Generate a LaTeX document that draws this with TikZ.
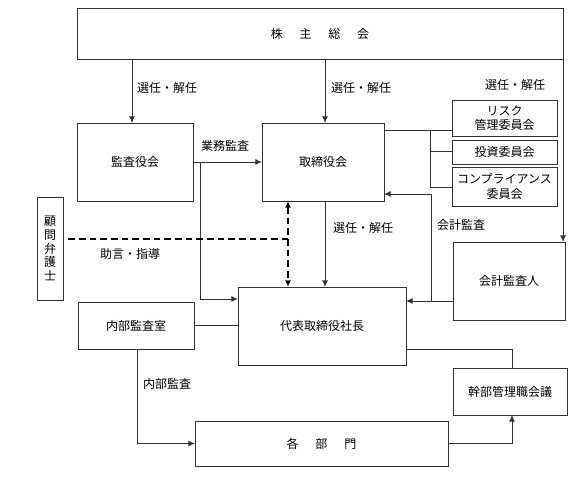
\documentclass[tikz,border=0pt]{standalone}
\usepackage{fontspec}
\setmainfont{Noto Sans CJK JP}
\usetikzlibrary{arrows.meta}
\tikzset{
  box/.style={draw=black!80, line width=0.7pt, inner sep=0pt, outer sep=0pt, align=center, font=\fontsize{9}{11}\selectfont},
  conn/.style={draw=black!80, line width=0.7pt},
  arr/.style={conn, -{Latex[length=5pt,width=4.5pt]}},
  dsh/.style={draw=black, line width=1.2pt, dash pattern=on 5pt off 3pt},
  lbl/.style={font=\fontsize{9}{11}\selectfont, inner sep=1pt}
}
\newcommand\bx[6]{\node[box, minimum width={(#4-#2)*0.75pt}, minimum height={(#5-#3)*0.75pt}] (#1) at ({(#2+#4)/2},{(#3+#5)/2}) {#6};}
\begin{document}
\begin{tikzpicture}[x=0.75pt,y=-0.75pt]
\useasboundingbox (0,0) rectangle (574,481);
% boxes
\bx{kabu}{77}{8}{563}{59}{株\hspace{1.4em}主\hspace{1.4em}総\hspace{1.4em}会}
\bx{kansa}{77}{123}{193}{201}{監査役会}
\bx{tori}{262}{123}{384}{201}{取締役会}
\bx{risk}{452}{100}{557}{136}{リスク\\管理委員会}
\bx{toushi}{452}{140}{557}{164}{投資委員会}
\bx{comp}{452}{167}{557}{206}{コンプライアンス\\委員会}
\bx{kaikei}{453}{242}{565}{320}{会計監査人}
\node[box, minimum width={26*0.75pt}, minimum height={103*0.75pt}, font=\fontsize{9}{10.2}\selectfont] (komon) at (50,248.5) {顧\\問\\弁\\護\\士};
\bx{daihyo}{238}{287}{406}{365}{代表取締役社長}
\bx{naibu}{78}{302}{194}{349}{内部監査室}
\bx{kakubu}{195}{421}{448}{466}{各\hspace{1.4em}部\hspace{1.4em}門}
\bx{kanbu}{453}{368}{567}{415}{幹部管理職会議}
% shareholders' meeting arrows
\draw[arr] (132,0 |- kabu.south) -- (132,0 |- kansa.north);
\draw[arr] (325,0 |- kabu.south) -- (325,0 |- tori.north);
\draw[arr] (kabu.south east) -- (kabu.south east |- kaikei.north);
\node[lbl] (l1) at (167,88) {選任・解任};
\node[lbl] (l2) at (361,88) {選任・解任};
\node[lbl] (l3) at (515,85) {選任・解任};
% audit board
\draw[arr] (kansa.east) -- (tori.west);
\node[lbl] (l4) at (225,146) {業務監査};
\coordinate (b1) at (200,162);
\draw[arr] (b1) |- (daihyo.west |- 0,299);
% board -> president
\draw[arr] (325,0 |- tori.south) -- (325,0 |- daihyo.north);
\node[lbl] (l5) at (363,228) {選任・解任};
% lawyer
\draw[dsh, {Latex[length=5pt,width=4.5pt]}-{Latex[length=5pt,width=4.5pt]}] (288,0 |- tori.south) -- (288,0 |- daihyo.north);
\coordinate (d1) at (288,239);
\draw[dsh] ([xshift=4pt]komon.east |- d1) -- (d1);
\node[lbl] (l6) at (130,254) {助言・指導};
% committees
\coordinate (c1) at (430,130);
\coordinate (c2) at (430,151);
\coordinate (c3) at (430,187);
\draw[conn] (tori.east |- c1) -- (risk.west |- c1);
\draw[conn] (c1) -- (c3) -- (comp.west |- c3);
\draw[conn] (c2) -- (toushi.west |- c2);
% accounting audit
\coordinate (a1) at (431,301);
\coordinate (a2) at (431,194);
\draw[arr] (kaikei.west |- a1) -- (daihyo.east |- a1);
\draw[arr] (a1) -- (a2) -- (tori.east |- a2);
\node[lbl] (l7) at (461,225) {会計監査};
% internal audit
\draw[conn] (naibu.east) -- (daihyo.west |- naibu.east);
\draw[arr] (137,0 |- naibu.south) |- (kakubu.west);
\node[lbl] (l8) at (167,384) {内部監査};
% departments / executives
\draw[arr] (kakubu.east) -| (512,0 |- kanbu.south);
\coordinate (e1) at (406,349);
\draw[conn] (daihyo.east |- e1) -| (512,0 |- kanbu.north);
\end{tikzpicture}
\end{document}
